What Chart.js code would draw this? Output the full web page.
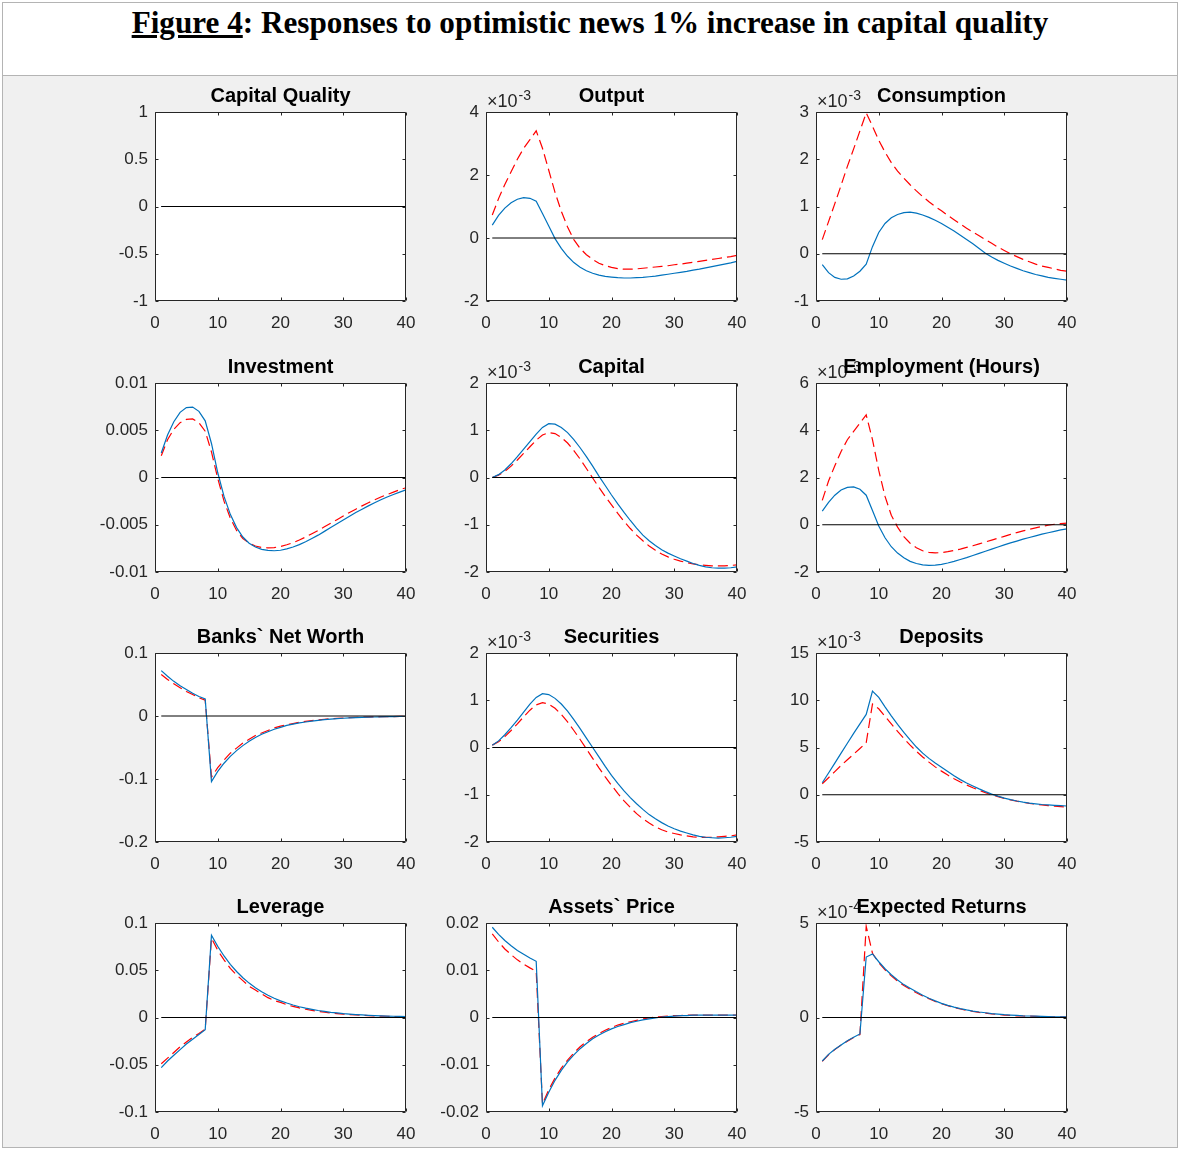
<!DOCTYPE html>
<html>
<head>
<meta charset="utf-8">
<script src="https://cdn.jsdelivr.net/npm/chart.js@4.4.1/dist/chart.umd.min.js"></script>
<style>
  html, body { margin: 0; padding: 0; background: #fff; }
  #page { position: relative; width: 1180px; height: 1150px; overflow: hidden; font-family: "Liberation Sans", Arial, sans-serif; }
  #frame { position: absolute; left: 2px; top: 2px; width: 1174px; height: 1144px; border: 1px solid #b4b4b4; background: #f0f0f0; }
  #header { position: absolute; left: 0; top: 0; width: 1174px; height: 72px; background: #fff; border-bottom: 1px solid #b4b4b4; }
  #mainTitle { position: absolute; left: 0; width: 1180px; text-align: center; font-family: "Liberation Serif", "Times New Roman", serif; font-weight: bold; color: #000; white-space: nowrap; line-height: 1; }
  .panel-title { position: absolute; text-align: center; font-weight: bold; font-size: 20px; line-height: 20px; color: #000; white-space: nowrap; }
  .exp { position: absolute; font-size: 18px; line-height: 20px; color: #262626; white-space: nowrap; }
  .exp sup { font-size: 14px; vertical-align: 0; position: relative; top: -7px; margin-left: 1px; }
  canvas { position: absolute; }
</style>
</head>
<body>
<div id="page">
  <div id="frame"><div id="header"></div></div>
  <div id="mainTitle"><span id="mainTitleText"><u>Figure 4</u>: Responses to optimistic news 1% increase in capital quality</span></div>
</div>
<script>
// ---- data ----
const periods = [1,2,3,4,5,6,7,8,9,10,11,12,13,14,15,16,17,18,19,20,21,22,23,24,25,26,27,28,29,30,31,32,33,34,35,36,37,38,39,40];

const titles = ['Capital Quality', 'Output', 'Consumption', 'Investment', 'Capital', 'Employment (Hours)',
  'Banks` Net Worth', 'Securities', 'Deposits', 'Leverage', 'Assets` Price', 'Expected Returns'];
const yMin  = [-1, -2, -1, -0.01, -2, -2, -0.2, -2, -5, -0.1, -0.02, -5];
const yMax  = [1, 4, 3, 0.01, 2, 6, 0.1, 2, 15, 0.1, 0.02, 5];
const yStep = [0.5, 2, 1, 0.005, 1, 2, 0.1, 1, 5, 0.05, 0.01, 5];
const exponents = ['', '-3', '-3', '', '-3', '-3', '', '-3', '-3', '', '', '-4'];

const capQualityBlue = [0,0,0,0,0,0,0,0,0,0, 0,0,0,0,0,0,0,0,0,0, 0,0,0,0,0,0,0,0,0,0, 0,0,0,0,0,0,0,0,0,0];
const capQualityRed  = [0,0,0,0,0,0,0,0,0,0, 0,0,0,0,0,0,0,0,0,0, 0,0,0,0,0,0,0,0,0,0, 0,0,0,0,0,0,0,0,0,0];

const outputBlue = [0.41, 0.72, 0.95, 1.12, 1.23, 1.28, 1.26, 1.17, 0.78, 0.38,
  -0.02, -0.33, -0.58, -0.78, -0.93, -1.04, -1.12, -1.18, -1.22, -1.24,
  -1.26, -1.27, -1.27, -1.26, -1.25, -1.23, -1.21, -1.18, -1.15, -1.12,
  -1.09, -1.06, -1.02, -0.99, -0.95, -0.91, -0.87, -0.83, -0.79, -0.74];
const outputRed = [0.73, 1.25, 1.7, 2.1, 2.5, 2.85, 3.12, 3.4, 2.85, 2.15,
  1.45, 0.85, 0.35, -0.05, -0.33, -0.53, -0.68, -0.8, -0.88, -0.93,
  -0.97, -0.99, -0.99, -0.98, -0.96, -0.94, -0.92, -0.9, -0.88, -0.85,
  -0.83, -0.8, -0.77, -0.74, -0.71, -0.68, -0.65, -0.62, -0.59, -0.55];

const consumptionBlue = [-0.23, -0.40, -0.50, -0.54, -0.53, -0.47, -0.37, -0.22, 0.15, 0.45,
  0.64, 0.76, 0.83, 0.87, 0.88, 0.86, 0.82, 0.77, 0.71, 0.64,
  0.56, 0.48, 0.39, 0.30, 0.21, 0.11, 0.01, -0.07, -0.14, -0.20,
  -0.26, -0.31, -0.36, -0.40, -0.44, -0.47, -0.50, -0.52, -0.54, -0.56];
const consumptionRed = [0.30, 0.68, 1.06, 1.45, 1.85, 2.22, 2.6, 2.98, 2.70, 2.40,
  2.15, 1.93, 1.75, 1.6, 1.46, 1.33, 1.21, 1.10, 1.0, 0.91,
  0.81, 0.72, 0.63, 0.54, 0.46, 0.38, 0.30, 0.22, 0.14, 0.07,
  0.0, -0.06, -0.12, -0.17, -0.22, -0.26, -0.29, -0.32, -0.35, -0.37];

const investmentBlue = [0.0026, 0.0045, 0.0059, 0.0069, 0.0074, 0.00745, 0.0070, 0.0060, 0.0036, 0.0005,
  -0.0020, -0.0039, -0.0053, -0.0063, -0.00695, -0.00735, -0.0076, -0.00772, -0.00775, -0.0077,
  -0.00755, -0.00735, -0.0071, -0.0068, -0.00645, -0.0061, -0.0057, -0.0053, -0.0049, -0.0045,
  -0.0041, -0.0037, -0.00335, -0.0030, -0.00267, -0.00235, -0.00207, -0.0018, -0.00155, -0.0013];
const investmentRed = [0.0023, 0.0040, 0.0051, 0.0058, 0.00615, 0.0062, 0.0058, 0.0049, 0.0027, -0.0001,
  -0.0025, -0.0043, -0.0056, -0.00645, -0.00695, -0.00725, -0.0074, -0.00745, -0.00742, -0.0073,
  -0.00712, -0.0069, -0.00662, -0.0063, -0.00595, -0.0056, -0.00522, -0.00484, -0.00446, -0.00408,
  -0.0037, -0.00335, -0.003, -0.00267, -0.00236, -0.00207, -0.0018, -0.00155, -0.0013, -0.00108];

const capitalBlue = [0.0, 0.06, 0.16, 0.29, 0.44, 0.6, 0.76, 0.92, 1.06, 1.14,
  1.13, 1.06, 0.95, 0.8, 0.63, 0.44, 0.24, 0.03, -0.17, -0.37,
  -0.56, -0.74, -0.91, -1.07, -1.22, -1.34, -1.44, -1.53, -1.6, -1.66,
  -1.72, -1.77, -1.82, -1.86, -1.89, -1.91, -1.92, -1.92, -1.91, -1.89];
const capitalRed = [0.0, 0.05, 0.13, 0.24, 0.37, 0.51, 0.65, 0.79, 0.9, 0.95,
  0.93, 0.85, 0.73, 0.57, 0.39, 0.19, -0.01, -0.21, -0.4, -0.58,
  -0.76, -0.93, -1.08, -1.22, -1.34, -1.45, -1.54, -1.62, -1.68, -1.73,
  -1.77, -1.8, -1.83, -1.85, -1.86, -1.87, -1.87, -1.87, -1.86, -1.85];

const employmentBlue = [0.58, 0.95, 1.25, 1.47, 1.58, 1.6, 1.5, 1.25, 0.6, -0.05,
  -0.55, -0.93, -1.2, -1.4, -1.55, -1.64, -1.7, -1.72, -1.71, -1.68,
  -1.62, -1.55, -1.47, -1.39, -1.3, -1.21, -1.12, -1.03, -0.94, -0.85,
  -0.77, -0.69, -0.61, -0.54, -0.47, -0.4, -0.34, -0.28, -0.22, -0.17];
const employmentRed = [1.03, 1.85, 2.5, 3.1, 3.6, 3.95, 4.3, 4.65, 3.6, 2.3,
  1.2, 0.4, -0.1, -0.5, -0.78, -0.97, -1.1, -1.17, -1.19, -1.18,
  -1.14, -1.09, -1.03, -0.96, -0.89, -0.81, -0.73, -0.65, -0.57, -0.49,
  -0.41, -0.33, -0.26, -0.19, -0.13, -0.07, -0.02, 0.02, 0.05, 0.07];

const netWorthBlue = [0.072, 0.063, 0.055, 0.048, 0.042, 0.036, 0.031, 0.027, -0.104, -0.088,
  -0.075, -0.064, -0.055, -0.047, -0.04, -0.034, -0.029, -0.025, -0.021, -0.018,
  -0.015, -0.013, -0.011, -0.0095, -0.008, -0.0068, -0.0058, -0.005, -0.0042, -0.0036,
  -0.003, -0.0026, -0.0022, -0.0019, -0.0016, -0.0013, -0.0011, -0.0009, -0.0008, -0.0007];
const netWorthRed = [0.066, 0.058, 0.051, 0.045, 0.039, 0.034, 0.029, 0.025, -0.097, -0.082,
  -0.07, -0.059, -0.051, -0.043, -0.037, -0.031, -0.027, -0.023, -0.019, -0.016,
  -0.014, -0.012, -0.01, -0.0085, -0.0072, -0.0061, -0.0052, -0.0044, -0.0038, -0.0032,
  -0.0027, -0.0023, -0.002, -0.0017, -0.0014, -0.0012, -0.001, -0.0009, -0.0007, -0.0006];

const securitiesBlue = [0.05, 0.14, 0.27, 0.42, 0.58, 0.75, 0.92, 1.06, 1.14, 1.12,
  1.04, 0.92, 0.77, 0.59, 0.4, 0.2, 0.0, -0.2, -0.4, -0.59,
  -0.76, -0.92, -1.06, -1.19, -1.31, -1.42, -1.51, -1.59, -1.66, -1.72,
  -1.77, -1.81, -1.85, -1.88, -1.9, -1.91, -1.92, -1.91, -1.9, -1.88];
const securitiesRed = [0.05, 0.12, 0.23, 0.36, 0.5, 0.65, 0.79, 0.9, 0.95, 0.92,
  0.83, 0.7, 0.54, 0.36, 0.17, -0.03, -0.23, -0.43, -0.62, -0.8,
  -0.97, -1.13, -1.27, -1.4, -1.51, -1.6, -1.68, -1.74, -1.79, -1.82,
  -1.85, -1.87, -1.89, -1.9, -1.9, -1.9, -1.89, -1.88, -1.87, -1.85];

const depositsBlue = [1.27, 2.3, 3.35, 4.4, 5.45, 6.5, 7.5, 8.5, 10.97, 10.3,
  9.3, 8.35, 7.45, 6.6, 5.8, 5.05, 4.4, 3.85, 3.35, 2.9,
  2.45, 2.0, 1.6, 1.25, 0.93, 0.62, 0.33, 0.07, -0.15, -0.35,
  -0.52, -0.66, -0.78, -0.88, -0.96, -1.03, -1.08, -1.12, -1.16, -1.19];
const depositsRed = [1.17, 1.8, 2.45, 3.1, 3.7, 4.3, 4.9, 5.5, 9.6, 9.1,
  8.3, 7.5, 6.7, 5.95, 5.25, 4.6, 4.0, 3.45, 2.95, 2.5,
  2.08, 1.7, 1.35, 1.03, 0.74, 0.47, 0.22, 0.0, -0.2, -0.38,
  -0.54, -0.68, -0.8, -0.91, -1.0, -1.08, -1.15, -1.21, -1.26, -1.3];

const leverageBlue = [-0.053, -0.046, -0.04, -0.034, -0.028, -0.023, -0.018, -0.013, 0.087, 0.0753,
  0.0651, 0.0563, 0.0487, 0.0421, 0.0364, 0.0315, 0.0273, 0.0236, 0.0204, 0.0176,
  0.0153, 0.0132, 0.0114, 0.0099, 0.0086, 0.0074, 0.0064, 0.0055, 0.0048, 0.0041,
  0.0036, 0.0031, 0.0027, 0.0023, 0.002, 0.0017, 0.0015, 0.0013, 0.0011, 0.001];
const leverageRed = [-0.049, -0.043, -0.037, -0.031, -0.026, -0.021, -0.017, -0.0125, 0.084, 0.071,
  0.061, 0.052, 0.045, 0.039, 0.033, 0.029, 0.025, 0.021, 0.018, 0.016,
  0.0135, 0.0117, 0.0101, 0.0087, 0.0075, 0.0065, 0.0056, 0.0048, 0.0042, 0.0036,
  0.0031, 0.0027, 0.0023, 0.002, 0.0017, 0.0015, 0.0013, 0.0011, 0.001, 0.0008];

const assetPriceBlue = [0.0191, 0.0176, 0.0163, 0.0152, 0.0142, 0.0134, 0.0126, 0.0119, -0.0187, -0.0158,
  -0.0133, -0.0112, -0.0094, -0.0079, -0.0066, -0.0055, -0.0045, -0.0037, -0.003, -0.0024,
  -0.0019, -0.0015, -0.0011, -0.0008, -0.0005, -0.0003, -0.0001, 0.0001, 0.0002, 0.0003,
  0.0004, 0.0004, 0.0005, 0.0005, 0.0005, 0.0005, 0.0005, 0.0005, 0.0005, 0.0005];
const assetPriceRed = [0.0177, 0.016, 0.0145, 0.0133, 0.0122, 0.0113, 0.0105, 0.0098, -0.0183, -0.0153,
  -0.0128, -0.0107, -0.009, -0.0075, -0.0062, -0.0051, -0.0042, -0.0034, -0.0027, -0.0021,
  -0.0016, -0.0012, -0.0009, -0.0006, -0.0003, -0.0001, 0.0001, 0.0002, 0.0003, 0.0004,
  0.0004, 0.0005, 0.0005, 0.0005, 0.0005, 0.0005, 0.0005, 0.0005, 0.0005, 0.0005];

const expReturnsBlue = [-2.3, -1.95, -1.68, -1.45, -1.23, -1.04, -0.87, 3.2, 3.36, 2.95,
  2.58, 2.26, 1.98, 1.74, 1.55, 1.36, 1.18, 1.02, 0.88, 0.75,
  0.64, 0.55, 0.47, 0.4, 0.34, 0.29, 0.25, 0.21, 0.18, 0.15,
  0.13, 0.11, 0.09, 0.08, 0.07, 0.06, 0.05, 0.04, 0.03, 0.03];
const expReturnsRed = [-2.32, -1.97, -1.7, -1.46, -1.25, -1.06, -0.9, 4.83, 3.4, 2.9,
  2.52, 2.2, 1.92, 1.69, 1.5, 1.31, 1.14, 0.99, 0.85, 0.73,
  0.62, 0.53, 0.45, 0.38, 0.32, 0.27, 0.23, 0.19, 0.16, 0.13,
  0.11, 0.09, 0.08, 0.07, 0.06, 0.05, 0.04, 0.03, 0.03, 0.02];

const blueSeries = [capQualityBlue, outputBlue, consumptionBlue, investmentBlue, capitalBlue, employmentBlue,
  netWorthBlue, securitiesBlue, depositsBlue, leverageBlue, assetPriceBlue, expReturnsBlue];
const redSeries = [capQualityRed, outputRed, consumptionRed, investmentRed, capitalRed, employmentRed,
  netWorthRed, securitiesRed, depositsRed, leverageRed, assetPriceRed, expReturnsRed];

// ---- layout ----
const colLeft = [155, 486, 816];
const rowTop = [112, 383, 653, 923];
const plotW = 251, plotH = 189;
const padL = 70, padT = 30, padR = 28, padB = 40;
const axisColor = '#262626';

Chart.defaults.font.family = '"Liberation Sans", Arial, sans-serif';
Chart.defaults.font.size = 17;
Chart.defaults.color = axisColor;

// white axes background + matlab-style box with inward ticks
const boxPlugin = {
  id: 'matlabBox',
  beforeDraw(chart) {
    const { ctx, chartArea: a } = chart;
    ctx.save();
    ctx.fillStyle = '#fff';
    ctx.fillRect(a.left, a.top, a.right - a.left, a.bottom - a.top);
    ctx.restore();
  },
  afterDatasetsDraw(chart) {
    const { ctx, chartArea: a, scales: { x, y } } = chart;
    const L = a.left + 0.5, R = a.right - 0.5, T = a.top + 0.5, B = a.bottom - 0.5;
    ctx.save();
    ctx.strokeStyle = axisColor;
    ctx.lineWidth = 1;
    ctx.beginPath();
    ctx.rect(L, T, R - L, B - T);
    x.ticks.forEach(t => {
      const px = Math.round(x.getPixelForValue(t.value)) + 0.5;
      ctx.moveTo(px, B); ctx.lineTo(px, B - 3);
      ctx.moveTo(px, T); ctx.lineTo(px, T + 3);
    });
    y.ticks.forEach(t => {
      const py = Math.round(y.getPixelForValue(t.value)) + 0.5;
      ctx.moveTo(L, py); ctx.lineTo(L + 3, py);
      ctx.moveTo(R, py); ctx.lineTo(R - 3, py);
    });
    ctx.stroke();
    ctx.restore();
  }
};

const fmt = v => String(+Number(v).toFixed(6));
const page = document.getElementById('page');

titles.forEach((title, i) => {
  const r = Math.floor(i / 3), c = i % 3;
  const left = colLeft[c], top = rowTop[r];

  const canvas = document.createElement('canvas');
  canvas.width = plotW + padL + padR;
  canvas.height = plotH + padT + padB;
  canvas.style.left = (left - padL) + 'px';
  canvas.style.top = (top - padT) + 'px';
  page.appendChild(canvas);

  if (exponents[i]) {
    const e = document.createElement('div');
    e.className = 'exp';
    e.style.left = (left + 1) + 'px';
    e.style.top = (top - 21) + 'px';
    e.innerHTML = '\u00d710<sup>' + exponents[i] + '</sup>';
    page.appendChild(e);
  }

  const t = document.createElement('div');
  t.className = 'panel-title';
  t.style.left = left + 'px';
  t.style.width = plotW + 'px';
  t.style.top = (top - 27) + 'px';
  t.textContent = title;
  page.appendChild(t);

  const zeroLine = [{ x: periods[0], y: 0 }, { x: periods[periods.length - 1], y: 0 }];

  new Chart(canvas, {
    type: 'line',
    data: {
      datasets: [
        { data: zeroLine, borderColor: '#000', borderWidth: 1 },
        { data: periods.map((p, k) => ({ x: p, y: blueSeries[i][k] })), borderColor: '#0072BD', borderWidth: 1.2 },
        { data: periods.map((p, k) => ({ x: p, y: redSeries[i][k] })), borderColor: '#FF0000', borderWidth: 1.2, borderDash: [10, 5] }
      ]
    },
    options: {
      responsive: false,
      animation: false,
      events: [],
      elements: { point: { radius: 0 }, line: { tension: 0 } },
      layout: { padding: { top: padT, right: padR, left: 0, bottom: 0 } },
      plugins: { legend: { display: false }, tooltip: { enabled: false }, title: { display: false } },
      scales: {
        x: {
          type: 'linear', min: 0, max: 40,
          grid: { display: false, drawTicks: false }, border: { display: false },
          ticks: { stepSize: 10, padding: 12, maxRotation: 0, autoSkip: false, callback: fmt },
          afterFit: s => { s.height = padB; }
        },
        y: {
          type: 'linear', min: yMin[i], max: yMax[i],
          grid: { display: false, drawTicks: false }, border: { display: false },
          ticks: { stepSize: yStep[i], padding: 7, autoSkip: false, callback: fmt },
          afterFit: s => { s.width = padL; }
        }
      }
    },
    plugins: [boxPlugin]
  });
});

// fit the figure caption to the reference width
const mt = document.getElementById('mainTitle');
const mtText = document.getElementById('mainTitleText');
mt.style.fontSize = '100px';
const wide = mtText.getBoundingClientRect().width;
const size = 100 * 917 / wide;
mt.style.fontSize = size.toFixed(2) + 'px';
mt.style.top = (33 - 0.8375 * size).toFixed(1) + 'px';
</script>
</body>
</html>
